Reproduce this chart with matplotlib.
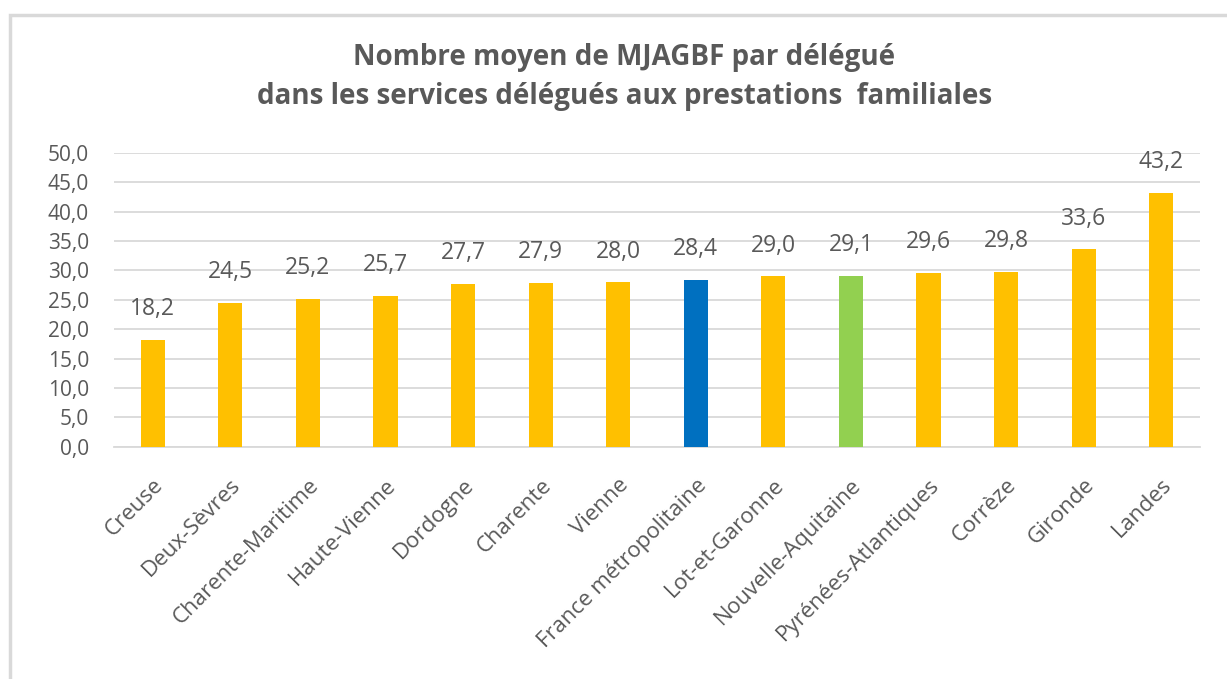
import matplotlib
matplotlib.use("Agg")
import matplotlib.pyplot as plt
from matplotlib.patches import Rectangle

categories = ["Creuse", "Deux-Sèvres", "Charente-Maritime", "Haute-Vienne", "Dordogne",
              "Charente", "Vienne", "France métropolitaine", "Lot-et-Garonne",
              "Nouvelle-Aquitaine", "Pyrénées-Atlantiques", "Corrèze", "Gironde", "Landes"]
values = [18.2, 24.5, 25.2, 25.7, 27.7, 27.9, 28.0, 28.4, 29.0, 29.1, 29.6, 29.8, 33.6, 43.2]
colors = ["#FFC000"] * 7 + ["#0070C0", "#FFC000", "#92D050"] + ["#FFC000"] * 4
yticks = [0, 5, 10, 15, 20, 25, 30, 35, 40, 45, 50]
title = "Nombre moyen de MJAGBF par délégué\ndans les services délégués aux prestations  familiales"

plt.rcParams['font.family'] = ['Open Sans', 'DejaVu Sans']
txt = "#595959"
grid = "#D9D9D9"

fig = plt.figure(figsize=(12.27, 6.79), dpi=100)
ax = fig.add_axes([0.0929, 0.342, 0.8851, 0.4328])

x = list(range(len(categories)))
bars = ax.bar(x, values, width=0.31, color=colors, zorder=3)
for xi, v in zip(x, values):
    ax.annotate(f"{v:.1f}".replace(".", ","), (xi, v), xytext=(0, 22),
                textcoords="offset points", ha="center", va="center",
                fontsize=16.5, color=txt, zorder=4)

ax.set_ylim(0, 50)
ax.set_xlim(-0.5, len(categories) - 0.5)
ax.set_yticks(yticks)
ax.set_yticklabels([f"{t:.1f}".replace(".", ",") for t in yticks], fontsize=15, color=txt)
ax.set_xticks(x)
ax.set_xticklabels(categories, rotation=45, ha="right", rotation_mode="anchor",
                   fontsize=16, color=txt)
ax.tick_params(axis="both", length=0)
ax.tick_params(axis="y", pad=18)
ax.tick_params(axis="x", pad=20)
ax.yaxis.grid(True, color=grid, linewidth=1.3, zorder=0)
for s in ["top", "right", "left"]:
    ax.spines[s].set_visible(False)
ax.spines["bottom"].set_color(grid)
ax.spines["bottom"].set_linewidth(1.3)

fig.text(0.509, 0.8866, title, ha="center", va="center", fontsize=20,
         fontweight="bold", color=txt, linespacing=1.45)

border = Rectangle((0.0085, -0.2), 1.3, 1.2 - 15 / 679, transform=fig.transFigure,
                   fill=False, edgecolor=grid, linewidth=2.5, clip_on=False)
fig.add_artist(border)

fig.savefig("out.png", dpi=100, facecolor="white")
